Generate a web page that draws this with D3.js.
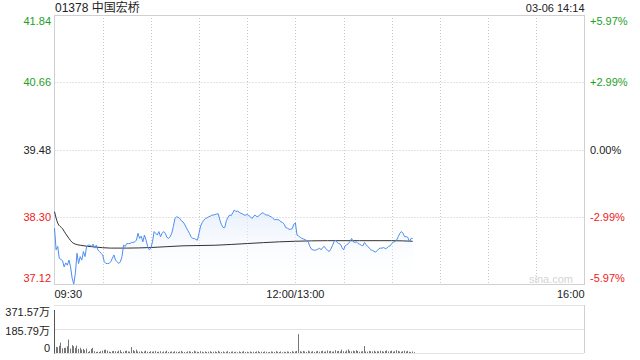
<!DOCTYPE html>
<html>
<head>
<meta charset="utf-8">
<script src="https://cdn.jsdelivr.net/npm/d3@7"></script>
<style>
body { margin: 0; background: #fff; }
text { font-family: "Liberation Sans", Arial, "Noto Sans CJK SC", sans-serif; }
</style>
</head>
<body>
<div id="chart"></div>
<script>
var title = "01378 中国宏桥";
var stamp = "03-06 14:14";
var prevClose = 39.48;
var priceTicks = [41.84, 40.66, 39.48, 38.30, 37.12];
var pctTicks = ["+5.97%", "+2.99%", "0.00%", "-2.99%", "-5.97%"];
var timeTicks = [0, 150, 330];
var timeLabels = ["09:30", "12:00/13:00", "16:00"];
var volTicks = [0, 185.79, 371.57];

// one price per trading minute, 09:30 -> 14:13
var prices = [
  38.10,37.72,37.78,37.57,37.55,37.53,37.42,37.49,37.45,37.54,
  37.42,37.22,37.12,37.31,37.66,37.48,37.60,37.54,37.69,37.60,
  37.78,37.80,37.80,37.78,37.82,37.75,37.80,37.72,37.69,37.66,
  37.63,37.51,37.48,37.48,37.48,37.51,37.57,37.63,37.54,37.51,
  37.48,37.51,37.60,37.80,37.78,37.83,37.83,37.83,37.85,37.85,
  37.86,37.89,38.01,37.92,37.96,37.86,37.98,37.89,37.78,37.72,
  37.75,37.86,38.04,38.01,37.98,38.04,37.95,38.01,38.04,38.01,
  37.94,37.92,37.95,38.01,38.13,38.27,
  38.30,38.29,38.27,38.23,38.21,38.17,38.11,38.06,38.01,37.95,
  37.92,37.92,37.90,37.89,38.01,38.14,38.20,38.24,38.27,38.28,
  38.30,38.31,38.33,38.33,38.34,38.35,38.35,38.24,38.16,38.11,
  38.11,38.23,38.29,38.33,38.32,38.37,38.42,38.39,38.40,38.38,
  38.36,38.35,38.33,38.33,38.34,38.32,38.30,38.27,38.31,38.33,
  38.30,38.31,38.34,38.36,38.37,38.34,38.33,38.33,38.31,38.30,
  38.27,38.25,38.25,38.25,38.24,38.21,38.20,38.17,38.11,38.10,
  38.08,38.08,38.09,38.17,38.19,
  37.98,37.96,37.94,37.92,37.91,37.90,37.88,37.86,37.78,37.73,
  37.72,37.71,37.72,37.73,37.75,37.72,37.76,37.78,37.74,37.71,
  37.69,37.73,37.79,37.86,37.89,37.85,37.83,37.82,37.76,37.72,
  37.79,37.81,37.83,37.87,37.92,37.86,37.85,37.86,37.83,37.82,
  37.80,37.79,37.85,37.81,37.78,37.75,37.72,37.71,37.69,37.68,
  37.71,37.74,37.75,37.75,37.76,37.74,37.75,37.78,37.79,37.83,
  37.86,37.86,37.89,37.95,38.01,38.04,38.01,37.95,37.95,37.94,
  37.86,37.92,37.92
];

var avgMinutes = [0,2,5,7,9,11,13,16,25,35,45,60,80,100,120,140,150,170,190,210,223];
var avgPrices = [38.39,38.19,38.09,38.00,37.92,37.85,37.82,37.80,37.77,37.75,37.75,
                 37.76,37.79,37.80,37.83,37.86,37.87,37.88,37.88,37.88,37.87];

// volume per minute, in 万
var volumes = [
  48,44,56,80,36,40,40,52,104,34,61,53,40,58,32,40,26,32,22,34,8,14,32,40,
  14,8,10,8,14,18,24,26,18,10,8,14,16,14,10,18,22,8,10,16,18,12,10,46,22,14,
  26,12,10,14,8,12,18,10,8,14,10,12,16,8,10,14,6,12,10,18,8,10,12,8,14,10,
  8,12,16,10,8,6,12,14,10,8,18,12,10,8,14,10,6,12,8,10,14,8,10,12,8,16,
  10,8,12,6,10,14,8,10,12,8,10,6,12,8,10,14,8,10,6,12,8,10,8,12,14,8,
  10,8,12,10,6,8,12,10,8,14,10,8,12,6,10,8,12,10,8,14,10,12,16,
  146,14,10,16,12,8,18,12,10,14,8,12,16,10,14,18,10,12,20,14,16,10,12,22,14,
  16,12,26,14,10,20,28,16,12,18,14,22,16,10,12,14,54,12,10,16,14,12,18,10,14,
  12,18,14,10,16,20,12,14,18,10,14,22,16,12,10,14,18,12,16,10,8,12,6
];

var plotLeft = 54.5, plotRight = 584.5, plotTop = 15, plotBottom = 284;
var volTop = 305, volBottom = 353;
var green = "#1ea01e", red = "#f02020", grid = "#c8c8c8";

var svg = d3.select("#chart").append("svg")
    .attr("width", 640)
    .attr("height", 360)
    .style("display", "block");

var x = d3.scaleLinear().domain([0, 330]).range([plotLeft, plotRight]);
var y = d3.scaleLinear().domain([37.12, 41.84]).range([plotBottom, plotTop]);
var yv = d3.scaleLinear().domain([0, 371.57]).range([volBottom, volTop]);

function colorFor(p) {
    if (p > prevClose + 1e-9) return green;
    if (p < prevClose - 1e-9) return red;
    return "#222";
}

// header
svg.append("text").attr("x", 55).attr("y", 12).style("font-size", "12px").attr("fill", "#222").text(title);
svg.append("text").attr("x", plotRight).attr("y", 12).attr("text-anchor", "end").style("font-size", "11px").attr("fill", "#222").text(stamp);

// price grid
svg.selectAll(".hgrid")
    .data(priceTicks.slice(1, -1))
    .enter().append("line")
    .attr("x1", plotLeft).attr("x2", plotRight)
    .attr("y1", d => Math.round(y(d)) + 0.5).attr("y2", d => Math.round(y(d)) + 0.5)
    .attr("stroke", grid).attr("stroke-dasharray", "1,2");

svg.selectAll(".vgrid")
    .data(d3.range(30, 330, 30))
    .enter().append("line")
    .attr("x1", d => Math.round(x(d)) + 0.5).attr("x2", d => Math.round(x(d)) + 0.5)
    .attr("y1", plotTop).attr("y2", plotBottom)
    .attr("stroke", grid).attr("stroke-dasharray", "1,2");

// frame
svg.append("rect")
    .attr("x", plotLeft).attr("y", plotTop + 0.5)
    .attr("width", plotRight - plotLeft).attr("height", plotBottom - plotTop)
    .attr("fill", "none").attr("stroke", "#d0d0d0");

// watermark
svg.append("text").attr("x", 573).attr("y", 283).attr("text-anchor", "end")
    .style("font-size", "11px").attr("fill", "#d4d4d4").text("sina.com");

// area under price
var defs = svg.append("defs");
var grad = defs.append("linearGradient").attr("id", "fillGrad")
    .attr("gradientUnits", "userSpaceOnUse")
    .attr("x1", 0).attr("x2", 0).attr("y1", 205).attr("y2", plotBottom);
grad.append("stop").attr("offset", 0).attr("stop-color", "#dce8fb").attr("stop-opacity", 0.75);
grad.append("stop").attr("offset", 1).attr("stop-color", "#ffffff").attr("stop-opacity", 0);

var area = d3.area()
    .x((d, i) => x(i))
    .y0(plotBottom)
    .y1(d => y(d));
svg.append("path").datum(prices).attr("d", area).attr("fill", "url(#fillGrad)");

// average line
var avgLine = d3.line()
    .x(d => x(d[0]))
    .y(d => y(d[1]))
    .curve(d3.curveMonotoneX);
svg.append("path")
    .datum(avgMinutes.map((m, i) => [m, avgPrices[i]]))
    .attr("d", avgLine)
    .attr("fill", "none").attr("stroke", "#333").attr("stroke-width", 1);

// price line
var priceLine = d3.line()
    .x((d, i) => x(i))
    .y(d => y(d));
svg.append("path").datum(prices).attr("d", priceLine)
    .attr("fill", "none").attr("stroke", "#4d8ef0").attr("stroke-width", 1);

// left price labels
svg.selectAll(".plabel")
    .data(priceTicks)
    .enter().append("text")
    .attr("x", 51)
    .attr("y", (d, i) => i === 0 ? y(d) + 10 : (i === priceTicks.length - 1 ? y(d) - 2 : y(d) + 4))
    .attr("text-anchor", "end")
    .style("font-size", "11px")
    .attr("fill", d => colorFor(d))
    .text(d => d.toFixed(2));

// right percent labels
svg.selectAll(".rlabel")
    .data(pctTicks)
    .enter().append("text")
    .attr("x", 590)
    .attr("y", (d, i) => i === 0 ? y(priceTicks[i]) + 10 : (i === pctTicks.length - 1 ? y(priceTicks[i]) - 2 : y(priceTicks[i]) + 4))
    .style("font-size", "11px")
    .attr("fill", (d, i) => colorFor(priceTicks[i]))
    .text(d => d);

// time labels
svg.selectAll(".tlabel")
    .data(timeTicks)
    .enter().append("text")
    .attr("x", d => x(d))
    .attr("y", 298)
    .attr("text-anchor", (d, i) => i === 0 ? "start" : (i === timeTicks.length - 1 ? "end" : "middle"))
    .style("font-size", "11px")
    .attr("fill", "#222")
    .text((d, i) => timeLabels[i]);

// volume panel
svg.selectAll(".vhgrid")
    .data(volTicks)
    .enter().append("line")
    .attr("x1", plotLeft).attr("x2", plotRight)
    .attr("y1", d => Math.round(yv(d)) + 0.5).attr("y2", d => Math.round(yv(d)) + 0.5)
    .attr("stroke", grid).attr("stroke-dasharray", "1,1");

svg.append("line")
    .attr("x1", plotRight).attr("x2", plotRight).attr("y1", volTop).attr("y2", volBottom)
    .attr("stroke", "#d0d0d0");
svg.append("line")
    .attr("x1", plotLeft).attr("x2", plotLeft).attr("y1", 310).attr("y2", volBottom + 0.5)
    .attr("stroke", "#555");

svg.selectAll(".vbar")
    .data(volumes)
    .enter().append("line")
    .attr("x1", (d, i) => Math.round(x(i)) + 1.5).attr("x2", (d, i) => Math.round(x(i)) + 1.5)
    .attr("y1", volBottom).attr("y2", d => yv(d))
    .attr("stroke", "#777").attr("stroke-width", 1);

svg.selectAll(".vlabel")
    .data(volTicks)
    .enter().append("text")
    .attr("x", 50)
    .attr("y", (d, i) => i === volTicks.length - 1 ? yv(d) + 11 : (i === 0 ? yv(d) - 1 : yv(d) + 6))
    .attr("text-anchor", "end")
    .style("font-size", "11px")
    .attr("fill", "#222")
    .text(d => d === 0 ? "0" : d.toFixed(2) + "万");
</script>
</body>
</html>
